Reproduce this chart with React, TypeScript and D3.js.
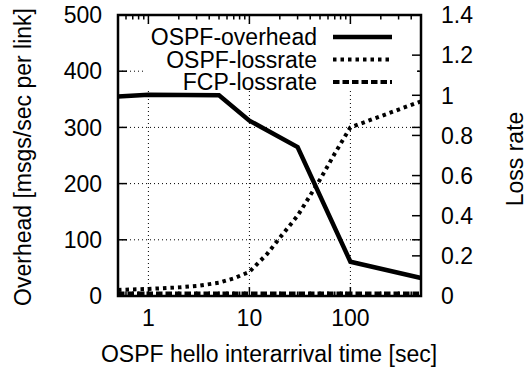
import React from "react";
import * as d3 from "d3";

const helloX = [0.5, 1, 5, 10, 30, 100, 500];
const ospfOverhead = [355, 358, 357, 312, 265, 61, 32];

const lossX = [0.5, 1, 2, 3, 5, 7, 10, 15, 20, 30, 50, 70, 100, 500];
const ospfLoss = [0.03, 0.035, 0.043, 0.05, 0.066, 0.088, 0.12, 0.21, 0.29, 0.4, 0.58, 0.71, 0.84, 0.97];

const fcpX = [0.5, 1, 5, 10, 30, 100, 500];
const fcpLoss = [0.012, 0.012, 0.012, 0.012, 0.012, 0.012, 0.012];

const xMajor = [1, 10, 100];
const xMinor = [0.6, 0.7, 0.8, 0.9, 2, 3, 4, 5, 6, 7, 8, 9, 20, 30, 40, 50, 60, 70, 80, 90, 200, 300, 400];
const yTicks = [0, 100, 200, 300, 400, 500];
const y2Ticks = [0, 0.2, 0.4, 0.6, 0.8, 1, 1.2, 1.4];

const legendItems = ["OSPF-overhead", "OSPF-lossrate", "FCP-lossrate"];

const W = 527, H = 373;
const L = 118, R = 421, T = 15, B = 296;
const FONT = "Liberation Sans, Arial, Helvetica, sans-serif";
const FS = 23;

export default function App() {
  const x = d3.scaleLog().domain([0.5, 500]).range([L, R]);
  const yL = d3.scaleLinear().domain([0, 500]).range([B, T]);
  const yR = d3.scaleLinear().domain([0, 1.4]).range([B, T]);

  const lineL = d3.line<[number, number]>().x(d => x(d[0])).y(d => yL(d[1]));
  const lineR = d3.line<[number, number]>().x(d => x(d[0])).y(d => yR(d[1]));

  const overheadPath = lineL(helloX.map((v, i) => [v, ospfOverhead[i]]))!;
  const lossPath = lineR(lossX.map((v, i) => [v, ospfLoss[i]]))!;
  const fcpPath = lineR(fcpX.map((v, i) => [v, fcpLoss[i]]))!;

  const gridStyle = { stroke: "#000", strokeWidth: 1, strokeDasharray: "1,3" };
  const styles = [
    { strokeWidth: 4.5, dash: undefined as string | undefined },
    { strokeWidth: 4, dash: "3.5,4" },
    { strokeWidth: 4, dash: "6.5,3" },
  ];

  const legendTextX = 317;
  const legendY = [37, 59.5, 82];

  return (
    <svg width={W} height={H} style={{ position: "absolute", left: 0, top: 0, background: "#fff" }} fontFamily={FONT}>
      <rect x={0} y={0} width={W} height={H} fill="#fff" />
      {/* grid */}
      {xMajor.map(v => (
        <line key={"gx" + v} x1={x(v)} x2={x(v)} y1={B} y2={T} {...gridStyle} />
      ))}
      {yTicks.filter(v => v > 0 && v < 500).map(v => (
        <line key={"gy" + v} x1={L} x2={R} y1={yL(v)} y2={yL(v)} {...gridStyle} />
      ))}
      {/* legend background */}
      <rect x={145} y={26} width={272} height={64} fill="#fff" />
      {/* ticks */}
      {xMajor.map(v => (
        <g key={"xt" + v}>
          <line x1={x(v)} x2={x(v)} y1={B} y2={B - 9} stroke="#000" strokeWidth={1.5} />
          <line x1={x(v)} x2={x(v)} y1={T} y2={T + 9} stroke="#000" strokeWidth={1.5} />
        </g>
      ))}
      {xMinor.map(v => (
        <g key={"xm" + v}>
          <line x1={x(v)} x2={x(v)} y1={B} y2={B - 4.5} stroke="#000" strokeWidth={1.5} />
          <line x1={x(v)} x2={x(v)} y1={T} y2={T + 4.5} stroke="#000" strokeWidth={1.5} />
        </g>
      ))}
      {yTicks.map(v => (
        <g key={"yt" + v}>
          <line x1={L} x2={L + 9} y1={yL(v)} y2={yL(v)} stroke="#000" strokeWidth={1.5} />
          {v !== 400 && <line x1={R} x2={R - 9} y1={yL(v)} y2={yL(v)} stroke="#000" strokeWidth={1.5} />}
          {v === 400 && <line x1={R} x2={R - 4} y1={yL(v)} y2={yL(v)} stroke="#000" strokeWidth={1.5} />}
        </g>
      ))}
      {y2Ticks.map(v => (
        <line key={"y2t" + v} x1={R} x2={R - 9} y1={yR(v)} y2={yR(v)} stroke="#000" strokeWidth={1.5} />
      ))}
      {/* data */}
      <path d={overheadPath} fill="none" stroke="#000" strokeWidth={styles[0].strokeWidth} strokeLinejoin="miter" />
      <path d={lossPath} fill="none" stroke="#000" strokeWidth={styles[1].strokeWidth} strokeDasharray={styles[1].dash} />
      <path d={fcpPath} fill="none" stroke="#000" strokeWidth={styles[2].strokeWidth} strokeDasharray={styles[2].dash} />
      {/* border */}
      <rect x={L} y={T} width={R - L} height={B - T} fill="none" stroke="#000" strokeWidth={2.5} />
      {/* tick labels */}
      {yTicks.map(v => (
        <text key={"yl" + v} x={102} y={yL(v)} dy="0.36em" textAnchor="end" fontSize={FS}>{v}</text>
      ))}
      {y2Ticks.map(v => (
        <text key={"y2l" + v} x={441} y={yR(v)} dy="0.36em" textAnchor="start" fontSize={FS}>{d3.format("~g")(v)}</text>
      ))}
      {xMajor.map(v => (
        <text key={"xl" + v} x={x(v)} y={325.5} textAnchor="middle" fontSize={FS}>{v}</text>
      ))}
      {/* axis titles */}
      <text x={269} y={362} textAnchor="middle" fontSize={FS}>OSPF hello interarrival time [sec]</text>
      <text transform={`translate(31,157) rotate(-90)`} textAnchor="middle" fontSize={FS}>Overhead [msgs/sec per link]</text>
      <text transform={`translate(523,159) rotate(-90)`} textAnchor="middle" fontSize={FS}>Loss rate</text>
      {/* legend */}
      {legendItems.map((name, i) => (
        <g key={name}>
          <text x={legendTextX} y={legendY[i]} dy="0.36em" textAnchor="end" fontSize={FS}>{name}</text>
          <line x1={333} x2={392} y1={legendY[i]} y2={legendY[i]} stroke="#000" strokeWidth={styles[i].strokeWidth} strokeDasharray={styles[i].dash} />
        </g>
      ))}
    </svg>
  );
}
